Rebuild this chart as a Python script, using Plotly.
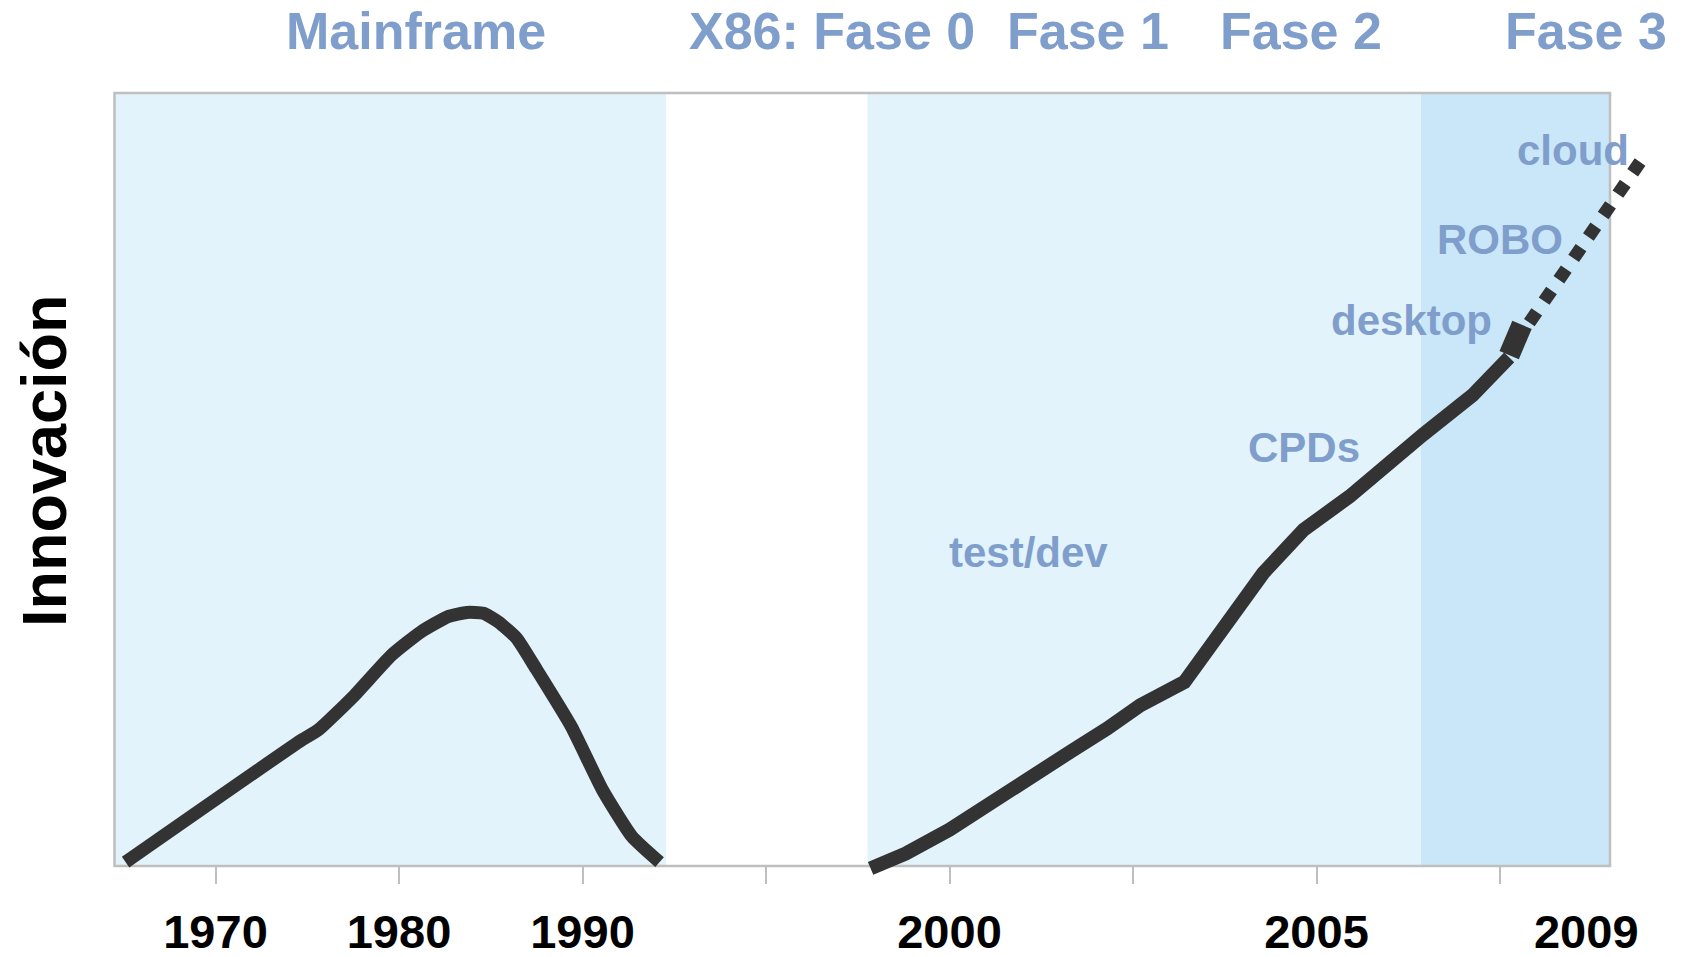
import plotly.graph_objects as go

# ---- data (x in "tick units": each axis tick mark is one unit apart; y = innovation index 0..100) ----
tick_marks = [1, 2, 3, 4, 5, 6, 7, 8]
year_labels = ["1970", "1980", "1990", "2000", "2005", "2009"]
year_label_pos = [1, 2, 3, 5, 7, 8.47]

mainframe_x = [0.51, 1.47, 1.56, 1.75, 1.96, 2.12, 2.27, 2.37, 2.46, 2.54, 2.64, 2.75, 2.94, 3.11, 3.27, 3.42]
mainframe_y = [0.5, 16.3, 17.6, 21.9, 27.3, 30.3, 32.3, 32.8, 32.7, 31.6, 29.5, 25.4, 18.0, 9.8, 3.8, 0.5]

x86_x = [4.57, 4.76, 5.00, 5.22, 5.44, 5.66, 5.86, 6.04, 6.28, 6.51, 6.71, 6.93, 7.18, 7.58, 7.85, 8.05]
x86_y = [-0.3, 1.6, 4.7, 7.9, 11.3, 14.8, 17.8, 20.8, 23.8, 31.0, 37.9, 43.5, 47.8, 55.8, 60.9, 65.8]

jump_x = [8.05, 8.12]
jump_y = [66.1, 70.0]

future_x = [8.16, 8.77]
future_y = [70.3, 91.3]

eras = ["Mainframe", "X86: Fase 0", "Fase 1", "Fase 2", "Fase 3"]
era_x = [2.095, 4.362, 5.755, 6.916, 8.466]
era_y = 108.0

workloads = ["test/dev", "CPDs", "desktop", "ROBO", "cloud"]
workload_x = [5.43, 6.93, 7.52, 8.00, 8.40]
workload_y = [40.5, 54.1, 70.6, 81.0, 92.6]

# era background spans (x start, x end)
band_light = [(0.4496, 3.455), (4.553, 7.569)]
band_dark = [(7.569, 8.5995)]
frame_x = (0.4496, 8.5995)

LINE = "#333333"
LABEL = "#7F9ECB"
FONT = "Liberation Sans, Arial, sans-serif"

fig = go.Figure()

for x0, x1 in band_light:
    fig.add_shape(type="rect", x0=x0, x1=x1, y0=0, y1=100, xref="x", yref="y",
                  fillcolor="#E3F3FB", line_width=0, layer="below")
for x0, x1 in band_dark:
    fig.add_shape(type="rect", x0=x0, x1=x1, y0=0, y1=100, xref="x", yref="y",
                  fillcolor="#C9E7F8", line_width=0, layer="below")
fig.add_shape(type="rect", x0=frame_x[0], x1=frame_x[1], y0=0, y1=100, xref="x", yref="y",
              fillcolor="rgba(0,0,0,0)", line=dict(color="#BFBFBF", width=2.5), layer="below")

fig.add_trace(go.Scatter(x=mainframe_x, y=mainframe_y, mode="lines",
                         line=dict(color=LINE, width=13, shape="spline", smoothing=0.5)))
fig.add_trace(go.Scatter(x=x86_x, y=x86_y, mode="lines",
                         line=dict(color=LINE, width=14)))
fig.add_trace(go.Scatter(x=jump_x, y=jump_y, mode="lines",
                         line=dict(color=LINE, width=21)))
fig.add_trace(go.Scatter(x=future_x, y=future_y, mode="lines",
                         line=dict(color=LINE, width=13, dash="dot")))

for name, xv in zip(eras, era_x):
    fig.add_annotation(x=xv, y=era_y, xref="x", yref="y", text=name, showarrow=False,
                       xanchor="center", yanchor="middle",
                       font=dict(family=FONT, size=52, color=LABEL, weight="bold"))

for name, xv, yv in zip(workloads, workload_x, workload_y):
    fig.add_annotation(x=xv, y=yv, xref="x", yref="y", text=name, showarrow=False,
                       xanchor="center", yanchor="middle",
                       font=dict(family=FONT, size=42, color=LABEL, weight="bold"))

fig.add_annotation(x=0.0654, y=52.4, xref="x", yref="y", text="Innovación", textangle=-90,
                   showarrow=False, xanchor="center", yanchor="middle",
                   font=dict(family=FONT, size=63, color="black", weight="bold"))

fig.update_layout(
    width=1681, height=957,
    margin=dict(l=0, r=0, t=0, b=0),
    paper_bgcolor="white", plot_bgcolor="white",
    showlegend=False,
    xaxis=dict(range=[-0.1744, 8.9864], showgrid=False, zeroline=False, showline=False,
               tickmode="array", tickvals=year_label_pos, ticktext=year_labels, ticks="",
               tickfont=dict(family=FONT, size=47, color="black", weight="bold"),
               ticklabelstandoff=34, automargin=False,
               minor=dict(tickmode="array", tickvals=tick_marks, ticks="outside", ticklen=17,
                          tickwidth=2, tickcolor="#BFBFBF", showgrid=False),
               anchor="free", position=91 / 957, fixedrange=True),
    yaxis=dict(range=[-11.77, 112.03], visible=False, fixedrange=True, automargin=False),
)

fig.write_html("out.html", config={"displayModeBar": False},
               post_script="document.body.style.margin='0';")
